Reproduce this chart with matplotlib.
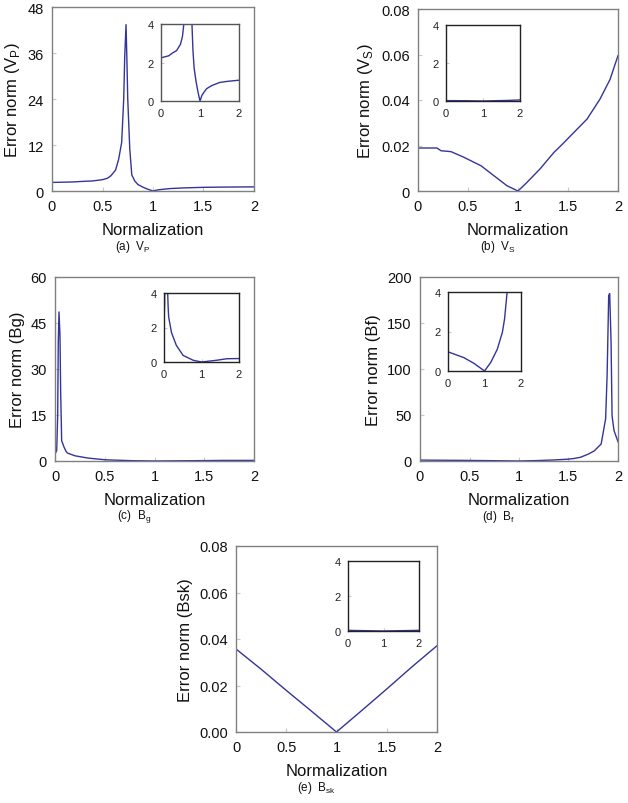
import matplotlib
matplotlib.use("Agg")
import matplotlib.pyplot as plt

plt.rcParams['font.family'] = ['Liberation Sans', 'DejaVu Sans']
plt.rcParams['mathtext.fontset'] = 'custom'
plt.rcParams['mathtext.rm'] = 'Liberation Sans'

LINE = '#34349a'

# ---------------- data ----------------
# (a) V_P
a_x = [0, 0.2, 0.3, 0.4, 0.5, 0.55, 0.58, 0.6, 0.63, 0.66, 0.69, 0.71, 0.72, 0.733,
       0.74, 0.75, 0.77, 0.79, 0.82, 0.85, 0.9, 0.95, 1.0, 1.05, 1.1, 1.17, 1.3, 1.5,
       1.7, 2.0]
a_y = [2.24, 2.35, 2.5, 2.62, 2.95, 3.35, 3.9, 4.5, 5.5, 8.3, 12.7, 24, 35, 43.4,
       36, 24, 11, 4.2, 2.6, 1.7, 1.0, 0.45, 0.0, 0.3, 0.45, 0.64, 0.8, 0.96,
       1.02, 1.08]

# (b) V_S
b_x = [0, 0.19, 0.23, 0.33, 0.46, 0.63, 0.76, 0.89, 1.0, 1.09, 1.22, 1.36, 1.44,
       1.56, 1.69, 1.82, 1.92, 2.0]
b_y = [0.0189, 0.0189, 0.0177, 0.0173, 0.0148, 0.0111, 0.0067, 0.0023, 0.0,
       0.0038, 0.0097, 0.0170, 0.0204, 0.0258, 0.0316, 0.0404, 0.0490, 0.0595]

# (c) B_g
c_x = [0, 0.017, 0.027, 0.033, 0.04, 0.05, 0.057, 0.067, 0.09, 0.11, 0.125, 0.2,
       0.33, 0.51, 0.78, 1.0, 1.4, 1.68, 2.0]
c_y = [2.3, 3.4, 14.8, 38.8, 48.6, 41, 22.4, 6.6, 4.6, 3.2, 2.6, 1.7,
       0.96, 0.38, 0.1, 0.0, 0.1, 0.19, 0.2]

# (d) B_f
d_x = [0, 0.43, 0.71, 1.0, 1.17, 1.35, 1.49, 1.55, 1.62, 1.7, 1.76, 1.83, 1.875,
       1.89, 1.906, 1.916, 1.93, 1.94, 1.96, 2.0]
d_y = [0.97, 0.68, 0.39, 0.0, 0.43, 1.1, 1.96, 2.64, 4.0, 7.5, 11, 18.5, 46,
       93, 180, 182, 129, 49, 33, 21]

# (e) B_sk
e_x = [0, 0.25, 0.5, 0.75, 1.0, 1.25, 1.5, 1.75, 2.0]
e_y = [0.0357, 0.0270, 0.0179, 0.0090, 0.0, 0.0092, 0.0185, 0.0280, 0.0371]

x_ticks = [0, 0.5, 1, 1.5, 2]
x_ticklabels = ['0', '0.5', '1', '1.5', '2']
inset_ticks = [0, 1, 2]
inset_yticks = [0, 2, 4]

panels = [
    dict(x=a_x, y=a_y, yt=[0, 12, 24, 36, 48], ytl=['0', '12', '24', '36', '48'],
         ylabel='Error norm (V$_\\mathregular{P}$)', cap='(a)  V$_\\mathregular{P}$',
         rect=(52, 8, 254, 192), inset=(161, 25, 239, 102), ispine='#555555'),
    dict(x=b_x, y=b_y, yt=[0, 0.02, 0.04, 0.06, 0.08],
         ytl=['0', '0.02', '0.04', '0.06', '0.08'],
         ylabel='Error norm (V$_\\mathregular{S}$)', cap='(b)  V$_\\mathregular{S}$',
         rect=(418, 10, 618, 192), inset=(446, 26, 520, 102), ispine='#222222'),
    dict(x=c_x, y=c_y, yt=[0, 15, 30, 45, 60], ytl=['0', '15', '30', '45', '60'],
         ylabel='Error norm (Bg)', cap='(c)  B$_\\mathregular{g}$',
         rect=(55, 278, 254, 462), inset=(164, 294, 239, 363), ispine='#222222'),
    dict(x=d_x, y=d_y, yt=[0, 50, 100, 150, 200], ytl=['0', '50', '100', '150', '200'],
         ylabel='Error norm (Bf)', cap='(d)  B$_\\mathregular{f}$',
         rect=(420, 278, 618, 462), inset=(448, 293, 521, 372), ispine='#222222'),
    dict(x=e_x, y=e_y, yt=[0, 0.02, 0.04, 0.06, 0.08],
         ytl=['0.00', '0.02', '0.04', '0.06', '0.08'],
         ylabel='Error norm (Bsk)', cap='(e)  B$_\\mathregular{sk}$',
         rect=(236, 547, 437, 733), inset=(348, 562, 419, 632), ispine='#222222'),
]

W, H = 628, 804
fig = plt.figure(figsize=(W / 100, H / 100), dpi=100)


def frac(r):
    l, t, rr, b = r
    return [l / W, 1 - b / H, (rr - l) / W, (b - t) / H]


for p in panels:
    ax = fig.add_axes(frac(p['rect']))
    ax.plot(p['x'], p['y'], color=LINE, lw=1.0)
    ax.set_xlim(0, 2)
    ax.set_ylim(p['yt'][0], p['yt'][-1])
    ax.set_xticks(x_ticks)
    ax.set_xticklabels(x_ticklabels)
    ax.set_yticks(p['yt'])
    ax.set_yticklabels(p['ytl'])
    ax.tick_params(direction='in', length=3, color='#c8c8c8', labelsize=10.5,
                   pad=6, labelcolor='#111111')
    for s in ax.spines.values():
        s.set_color('#808080')
        s.set_linewidth(1.0)
    ax.set_xlabel('Normalization', fontsize=12, labelpad=6, color='#111111')
    ax.set_ylabel(p['ylabel'], fontsize=12, labelpad=4, color='#111111')
    # caption
    l, t, rr, b = p['rect']
    fig.text(((l + rr) / 2 - 20) / W, 1 - (b + 55) / H, p['cap'], fontsize=8.5,
             ha='center', va='center', color='#111111')

    ia = fig.add_axes(frac(p['inset']))
    ia.plot(p['x'], p['y'], color=LINE, lw=1.0)
    ia.set_xlim(0, 2)
    ia.set_ylim(0, 4)
    ia.set_xticks(inset_ticks)
    ia.set_yticks(inset_yticks)
    ia.tick_params(direction='in', length=2, color='#c8c8c8', labelsize=8,
                   pad=5, labelcolor='#222222')
    for s in ia.spines.values():
        s.set_color(p['ispine'])
        s.set_linewidth(1.0)

fig.savefig('out.png', dpi=100)
